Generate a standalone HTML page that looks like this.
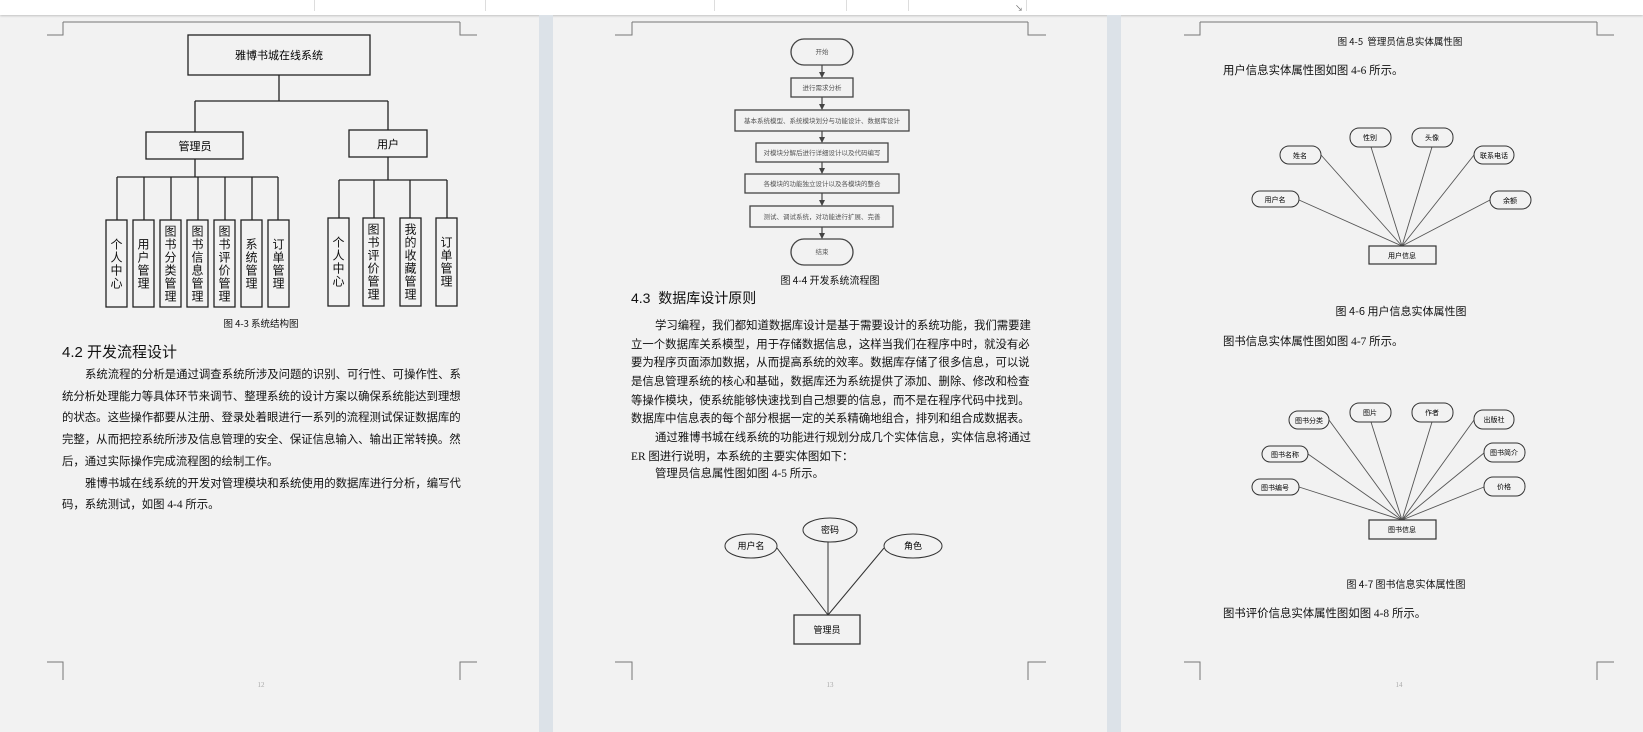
<!DOCTYPE html>
<html><head><meta charset="utf-8">
<style>
*{margin:0;padding:0;box-sizing:border-box}
body{width:1643px;height:732px;position:relative;overflow:hidden;background:#f2f2f2;font-family:"Liberation Serif","Noto Sans CJK SC",sans-serif;color:#111}
.a{position:absolute;white-space:nowrap}
.ln{position:absolute;font-size:11.4px;line-height:14px;height:14px;text-align:justify;text-align-last:justify;white-space:nowrap;overflow:visible}
.ln.l{text-align-last:left}
.v{position:absolute;writing-mode:vertical-rl;text-orientation:upright;font-family:"Noto Sans CJK SC",sans-serif;font-size:12px;line-height:21px;letter-spacing:1px;display:flex;align-items:center;justify-content:center}
.cap{position:absolute;font-family:"Noto Sans CJK SC",sans-serif;font-size:10px;transform:translateX(-50%);white-space:nowrap}
</style></head><body>
<div class="a" style="left:0;top:0;width:1643px;height:15px;background:#fff;box-shadow:0 1px 2px rgba(0,0,0,.2)"></div>
<div class="a" style="left:314px;top:0;width:1px;height:11px;background:#ddd"></div>
<div class="a" style="left:485px;top:0;width:1px;height:11px;background:#ddd"></div>
<div class="a" style="left:714px;top:0;width:1px;height:11px;background:#ddd"></div>
<div class="a" style="left:846px;top:0;width:1px;height:11px;background:#ddd"></div>
<div class="a" style="left:908px;top:0;width:1px;height:11px;background:#ddd"></div>
<div class="a" style="left:1026px;top:0;width:1px;height:11px;background:#ddd"></div>
<div class="a" style="left:1015px;top:3px;font-size:8px;color:#666">↘</div>
<div class="a" style="left:539px;top:15px;width:14px;height:717px;background:#dce2e8"></div>
<div class="a" style="left:1107px;top:15px;width:14px;height:717px;background:#dce2e8"></div>

<svg class="a" style="left:0;top:0" width="1643" height="732" xmlns="http://www.w3.org/2000/svg" font-family="Noto Sans CJK SC, sans-serif">
<defs>
<marker id="ar" markerWidth="6" markerHeight="6" refX="5" refY="3" orient="auto" markerUnits="userSpaceOnUse"><path d="M0,0 L6,3 L0,6z" fill="#444"/></marker>
</defs>
<g stroke="#777" stroke-width="1" fill="none">
<path d="M63,22H460M47,35H63V22M460,22V35H477"/>
<path d="M47,662H63V680M477,662H460V680"/>
<path d="M632,22H1028M615,35H632V22M1028,22V35H1046"/>
<path d="M615,662H632V680M1046,662H1028V680"/>
<path d="M1200,22H1597M1184,35H1200V22M1597,22V35H1614"/>
<path d="M1184,662H1200V680M1614,662H1597V680"/>
</g>
<g stroke="#222" stroke-width="1.3" fill="none">
<rect x="188" y="35" width="182" height="40"/>
<path d="M279,75V101M195,101H388M195,101V132M388,101V130"/>
<rect x="146" y="132" width="97" height="27"/>
<rect x="349" y="130" width="78" height="27"/>
<path d="M195,159V177M117,177H278"/>
<path d="M117,177V220M144,177V220M171,177V220M198,177V220M225,177V220M252,177V220M278,177V220"/>
<path d="M388,157V180M339,180H447M339,180V218M374,180V218M410,180V218M447,180V218"/>
<rect x="106" y="220" width="21" height="87"/><rect x="133" y="220" width="21" height="87"/>
<rect x="160" y="220" width="21" height="87"/><rect x="187" y="220" width="21" height="87"/>
<rect x="214" y="220" width="21" height="87"/><rect x="241" y="220" width="21" height="87"/>
<rect x="268" y="220" width="21" height="87"/>
<rect x="328" y="218" width="21" height="88"/><rect x="363" y="218" width="21" height="88"/>
<rect x="400" y="218" width="21" height="88"/><rect x="436" y="218" width="21" height="88"/>
</g>
<text x="279" y="59" font-size="11" text-anchor="middle">雅博书城在线系统</text>
<text x="195" y="150" font-size="11" text-anchor="middle">管理员</text>
<text x="388" y="148" font-size="11" text-anchor="middle">用户</text>

<g stroke="#444" stroke-width="1.3" fill="#f2f2f2">
<rect x="791" y="39" width="62" height="26" rx="13"/>
<rect x="791" y="78" width="62" height="19"/>
<rect x="735" y="110" width="174" height="21"/>
<rect x="756" y="143" width="132" height="19"/>
<rect x="745" y="174" width="154" height="19"/>
<rect x="750" y="206" width="143" height="21"/>
<rect x="791" y="239" width="62" height="26" rx="13"/>
</g>
<g stroke="#444" stroke-width="1.2">
<line x1="822" y1="65" x2="822" y2="77" marker-end="url(#ar)"/>
<line x1="822" y1="97" x2="822" y2="109" marker-end="url(#ar)"/>
<line x1="822" y1="131" x2="822" y2="142" marker-end="url(#ar)"/>
<line x1="822" y1="162" x2="822" y2="173" marker-end="url(#ar)"/>
<line x1="822" y1="193" x2="822" y2="205" marker-end="url(#ar)"/>
<line x1="822" y1="227" x2="822" y2="238" marker-end="url(#ar)"/>
</g>
<g font-size="6.5" fill="#555" text-anchor="middle">
<text x="822" y="54">开始</text>
<text x="822" y="90">进行需求分析</text>
<text x="822" y="123">基本系统模型、系统模块划分与功能设计、数据库设计</text>
<text x="822" y="155">对模块分解后进行详细设计以及代码编写</text>
<text x="822" y="186">各模块的功能独立设计以及各模块的整合</text>
<text x="822" y="219">测试、调试系统，对功能进行扩展、完善</text>
<text x="822" y="254">结束</text>
</g>

<g stroke="#333" stroke-width="1" fill="#f2f2f2">
<path d="M777,548L828,615M828,542V615M884,548L828,615" fill="none"/>
<ellipse cx="751" cy="546" rx="26" ry="12"/>
<ellipse cx="830" cy="530" rx="27" ry="12"/>
<ellipse cx="913" cy="546" rx="29" ry="12"/>
<rect x="794" y="615" width="66" height="29" stroke-width="1.3"/>
</g>
<g font-size="9" text-anchor="middle">
<text x="751" y="549">用户名</text><text x="830" y="533">密码</text><text x="913" y="549">角色</text>
<text x="827" y="633">管理员</text>
</g>

<g stroke="#555" stroke-width="0.9" fill="none">
<path d="M1299,200L1402,246M1321,155L1402,246M1371,147L1402,246M1432,147L1402,246M1474,155L1402,246M1490,200L1402,246"/>
</g>
<g stroke="#333" stroke-width="1" fill="#f2f2f2">
<rect x="1280" y="146" width="41" height="18" rx="9"/>
<rect x="1350" y="128" width="41" height="19" rx="9"/>
<rect x="1412" y="128" width="41" height="19" rx="9"/>
<rect x="1474" y="146" width="40" height="18" rx="9"/>
<rect x="1252" y="191" width="47" height="16" rx="8"/>
<rect x="1490" y="191" width="41" height="18" rx="9"/>
<rect x="1369" y="246" width="67" height="18" stroke-width="1.2"/>
</g>
<g font-size="7" text-anchor="middle">
<text x="1300" y="158">姓名</text><text x="1370" y="140">性别</text><text x="1432" y="140">头像</text>
<text x="1494" y="158">联系电话</text><text x="1275" y="202">用户名</text><text x="1510" y="203">余额</text>
<text x="1402" y="258">用户信息</text>
</g>

<g stroke="#555" stroke-width="0.9" fill="none">
<path d="M1299,487L1402,520M1308,454L1402,520M1329,420L1402,520M1371,422L1402,520M1432,422L1402,520M1474,420L1402,520M1484,453L1402,520M1484,487L1402,520"/>
</g>
<g stroke="#333" stroke-width="1" fill="#f2f2f2">
<rect x="1289" y="411" width="40" height="18" rx="9"/>
<rect x="1350" y="403" width="41" height="19" rx="9"/>
<rect x="1412" y="403" width="41" height="19" rx="9"/>
<rect x="1474" y="410" width="40" height="19" rx="9"/>
<rect x="1262" y="446" width="46" height="16" rx="8"/>
<rect x="1484" y="443" width="41" height="19" rx="9"/>
<rect x="1252" y="479" width="47" height="16" rx="8"/>
<rect x="1484" y="477" width="41" height="19" rx="9"/>
<rect x="1369" y="520" width="67" height="19" stroke-width="1.2"/>
</g>
<g font-size="7" text-anchor="middle">
<text x="1309" y="423">图书分类</text><text x="1370" y="415">图片</text><text x="1432" y="415">作者</text>
<text x="1494" y="422">出版社</text><text x="1285" y="457">图书名称</text><text x="1504" y="455">图书简介</text>
<text x="1275" y="490">图书编号</text><text x="1504" y="489">价格</text>
<text x="1402" y="532">图书信息</text>
</g>
<g font-size="7" fill="#aaa" text-anchor="middle" font-family="Liberation Serif, serif">
<text x="261" y="687">12</text><text x="830" y="687">13</text><text x="1399" y="687">14</text>
</g>
</svg>

<div class="v" style="left:106px;top:220px;width:21px;height:87px">个人中心</div>
<div class="v" style="left:133px;top:220px;width:21px;height:87px">用户管理</div>
<div class="v" style="left:160px;top:220px;width:21px;height:87px">图书分类管理</div>
<div class="v" style="left:187px;top:220px;width:21px;height:87px">图书信息管理</div>
<div class="v" style="left:214px;top:220px;width:21px;height:87px">图书评价管理</div>
<div class="v" style="left:241px;top:220px;width:21px;height:87px">系统管理</div>
<div class="v" style="left:268px;top:220px;width:21px;height:87px">订单管理</div>
<div class="v" style="left:328px;top:218px;width:21px;height:88px">个人中心</div>
<div class="v" style="left:363px;top:218px;width:21px;height:88px">图书评价管理</div>
<div class="v" style="left:400px;top:218px;width:21px;height:88px">我的收藏管理</div>
<div class="v" style="left:436px;top:218px;width:21px;height:88px">订单管理</div>

<div class="cap" style="left:261px;top:316px;font-size:9.5px">图 4-3 系统结构图</div>
<div class="a" style="left:62px;top:341px;font-size:15px;font-family:'Liberation Sans','Noto Sans CJK SC',sans-serif">4.2 开发流程设计</div>
<div class="ln" style="left:85px;top:368px;width:374px">系统流程的分析是通过调查系统所涉及问题的识别、可行性、可操作性、系</div>
<div class="ln" style="left:62px;top:390px;width:397px">统分析处理能力等具体环节来调节、整理系统的设计方案以确保系统能达到理想</div>
<div class="ln" style="left:62px;top:411px;width:397px">的状态。这些操作都要从注册、登录处着眼进行一系列的流程测试保证数据库的</div>
<div class="ln" style="left:62px;top:433px;width:397px">完整，从而把控系统所涉及信息管理的安全、保证信息输入、输出正常转换。然</div>
<div class="ln l" style="left:62px;top:455px;width:397px">后，通过实际操作完成流程图的绘制工作。</div>
<div class="ln" style="left:85px;top:477px;width:374px">雅博书城在线系统的开发对管理模块和系统使用的数据库进行分析，编写代</div>
<div class="ln l" style="left:62px;top:498px;width:397px">码，系统测试，如图 4-4 所示。</div>

<div class="cap" style="left:830px;top:272px;font-size:10px">图 4-4 开发系统流程图</div>
<div class="a" style="left:631px;top:288px;font-size:14px;font-family:'Liberation Sans','Noto Sans CJK SC',sans-serif">4.3&nbsp; 数据库设计原则</div>
<div class="ln" style="left:655px;top:319px;width:373px">学习编程，我们都知道数据库设计是基于需要设计的系统功能，我们需要建</div>
<div class="ln" style="left:631px;top:338px;width:397px">立一个数据库关系模型，用于存储数据信息，这样当我们在程序中时，就没有必</div>
<div class="ln" style="left:631px;top:356px;width:397px">要为程序页面添加数据，从而提高系统的效率。数据库存储了很多信息，可以说</div>
<div class="ln" style="left:631px;top:375px;width:397px">是信息管理系统的核心和基础，数据库还为系统提供了添加、删除、修改和检查</div>
<div class="ln" style="left:631px;top:394px;width:397px">等操作模块，使系统能够快速找到自己想要的信息，而不是在程序代码中找到。</div>
<div class="ln" style="left:631px;top:412px;width:381px">数据库中信息表的每个部分根据一定的关系精确地组合，排列和组合成数据表。</div>
<div class="ln" style="left:655px;top:431px;width:373px">通过雅博书城在线系统的功能进行规划分成几个实体信息，实体信息将通过</div>
<div class="ln l" style="left:631px;top:450px;width:397px">ER 图进行说明，本系统的主要实体图如下：</div>
<div class="ln l" style="left:655px;top:467px;width:373px">管理员信息属性图如图 4-5 所示。</div>

<div class="cap" style="left:1400px;top:34px;font-size:9.5px">图 4-5&nbsp; 管理员信息实体属性图</div>
<div class="ln l" style="left:1223px;top:64px;width:300px">用户信息实体属性图如图 4-6 所示。</div>
<div class="cap" style="left:1401px;top:303px;font-size:11px">图 4-6 用户信息实体属性图</div>
<div class="ln l" style="left:1223px;top:335px;width:300px">图书信息实体属性图如图 4-7 所示。</div>
<div class="cap" style="left:1406px;top:576px;font-size:10px">图 4-7 图书信息实体属性图</div>
<div class="ln l" style="left:1223px;top:607px;width:300px">图书评价信息实体属性图如图 4-8 所示。</div>
</body></html>
